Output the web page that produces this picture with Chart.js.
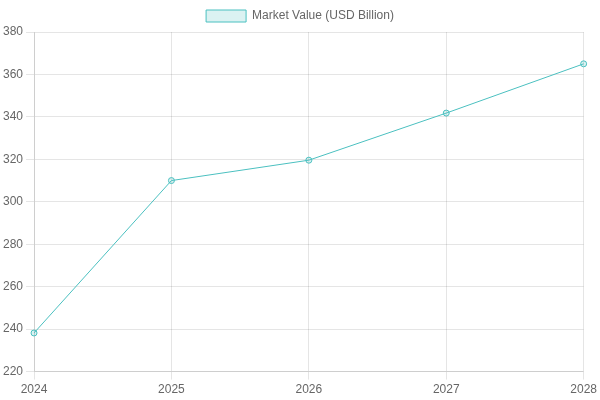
<!DOCTYPE html>
<html>
<head>
<meta charset="utf-8">
<script src="https://cdn.jsdelivr.net/npm/chart.js@4"></script>
<style>
html,body{margin:0;padding:0;background:#fff;}
#wrap{width:600px;height:400px;}
</style>
</head>
<body>
<div id="wrap"><canvas id="c"></canvas></div>
<script>
const years = ['2024', '2025', '2026', '2027', '2028'];
const marketValue = [238.2, 310, 319.6, 341.8, 365];
const seriesLabel = 'Market Value (USD Billion)';

new Chart(document.getElementById('c'), {
  type: 'line',
  data: {
    labels: years,
    datasets: [{
      label: seriesLabel,
      data: marketValue,
      borderColor: 'rgb(75, 192, 192)',
      backgroundColor: 'rgba(75, 192, 192, 0.2)',
      borderWidth: 1,
      fill: false,
      tension: 0
    }]
  },
  options: {
    responsive: true,
    maintainAspectRatio: false,
    animation: false,
    scales: {
      y: { min: 220, max: 380, ticks: { stepSize: 20 } }
    }
  }
});
</script>
</body>
</html>
